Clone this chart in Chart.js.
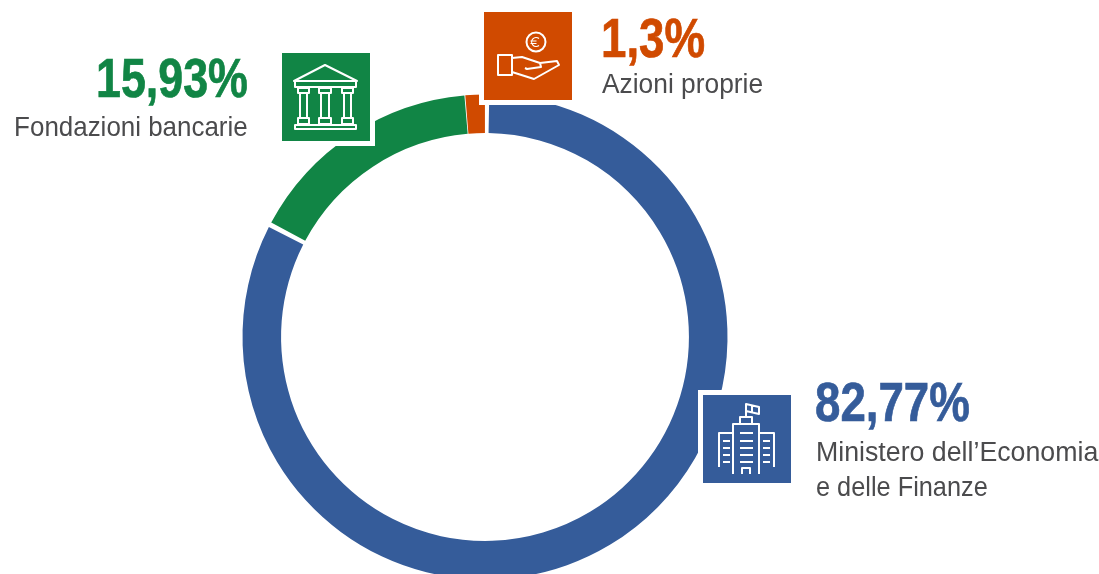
<!DOCTYPE html>
<html lang="it">
<head>
<meta charset="utf-8">
<script src="https://cdn.jsdelivr.net/npm/chart.js@4"></script>
<style>
html,body{margin:0;padding:0;background:#fff;overflow:hidden}
#stage{position:relative;width:1099px;height:574px;overflow:hidden;background:#fff;font-family:"Liberation Sans",sans-serif}
#wrap{position:absolute;left:0;top:0;width:970px;height:674px}
.tile{position:absolute;width:88px;height:88px;border:5px solid #fff;box-sizing:content-box}
.tile svg{display:block;width:88px;height:88px}
.tile svg *{fill:none;stroke:#fff;stroke-width:2;stroke-linejoin:round}
.txt{position:absolute;white-space:nowrap}
.val{font-weight:700;font-size:56px;line-height:56px;-webkit-text-stroke:.7px currentColor}
.lab{font-size:27.5px;line-height:36px;color:#4b4b4d}
</style>
</head>
<body>
<div id="stage">
<div id="wrap"><canvas id="c" width="970" height="674"></canvas></div>

<div class="tile" style="left:698px;top:390px;background:#355c9a;background-clip:padding-box">
<svg viewBox="0 0 88 88"><path d="M43 22V10M43 9l13 3v7l-13-3zM49 10.500v7M37 29V22H49V29"/><path d="M30 79V29H56V79M30 38H16V72M56 38H71V72M37 38H50M37 46H50M37 53H50M37 60H50M37 67H50M20 46H27M20 53H27M20 60H27M20 67H27M60 46H67M60 53H67M60 60H67M60 67H67M39 79V73H47V79"/></svg>
</div>
<div class="tile" style="left:277px;top:48px;background:#118545;background-clip:padding-box">
<svg viewBox="0 0 88 88"><path d="M43 12L12 28H75ZM13 28V34H74V28M16 35H27V40H16ZM37 35H49V40H37ZM60 35H71V40H60ZM18 40V65M25 40V65M39 40V65M47 40V65M62 40V65M69 40V65M16 65H27V71H16ZM37 65H49V71H37ZM60 65H71V71H60ZM13 72H74V76H13Z"/></svg>
</div>
<div class="tile" style="left:479px;top:7px;background:#d04a00;background-clip:padding-box">
<svg viewBox="0 0 88 88"><circle cx="52" cy="30" r="9.500"/><path d="M55 26.500a4.500 4.500 0 1 0 0 7M46.500 29h6M46.500 31.500h6" style="stroke-width:1.200"/><path d="M14 43H28V63H14ZM28 46L38 45L56 51L73 49L75 53L50 67L28 60M56 51L57 55L43 57L41 56"/></svg>
</div>

<div id="labels"></div>
</div>
<script>
const categories = ["Ministero dell\u2019Economia\ne delle Finanze", "Fondazioni bancarie", "Azioni proprie"];
const shares = [82.77, 15.93, 1.3];
const shareLabels = ["82,77%", "15,93%", "1,3%"];
const sliceColors = ["#355c9a", "#118545", "#d04a00"];

const places = [
  {left: 815, valTop: 374, valScale: .815, labTops: [434.4, 469], labScales: [.972, .921]},
  {right: 851, valTop: 49.5, valScale: .8, labTops: [109.4], labScales: [.943]},
  {left: 601, valTop: 9.5, valScale: .815, labTops: [66.4], labScales: [.958]}
];
const box = document.getElementById("labels");
categories.forEach((name, i) => {
  const p = places[i];
  const isLeft = p.left !== undefined;
  const side = isLeft ? `left:${p.left}px;` : `right:${p.right}px;text-align:right;`;
  const origin = `transform-origin:${isLeft ? "left" : "right"} top;`;
  const v = document.createElement("div");
  v.className = "txt val";
  v.style.cssText = side + origin + `transform:scaleX(${p.valScale});top:${p.valTop}px;color:${sliceColors[i]}`;
  v.textContent = shareLabels[i];
  box.appendChild(v);
  name.split("\n").forEach((line, k) => {
    const l = document.createElement("div");
    l.className = "txt lab";
    const labSide = isLeft ? `left:${p.left + 1}px;` : side;
    l.style.cssText = labSide + origin + `transform:scaleX(${p.labScales[k]});top:${p.labTops[k]}px`;
    l.textContent = line;
    box.appendChild(l);
  });
});

new Chart(document.getElementById("c"), {
  type: "doughnut",
  data: {
    labels: categories,
    datasets: [{data: shares, backgroundColor: sliceColors, borderWidth: 0, spacing: 3, hoverOffset: 0}]
  },
  options: {
    responsive: false,
    animation: false,
    radius: 241,
    cutout: "84%",
    layout: {padding: 0},
    plugins: {legend: {display: false}, tooltip: {enabled: false}}
  }
});
</script>
</body>
</html>
